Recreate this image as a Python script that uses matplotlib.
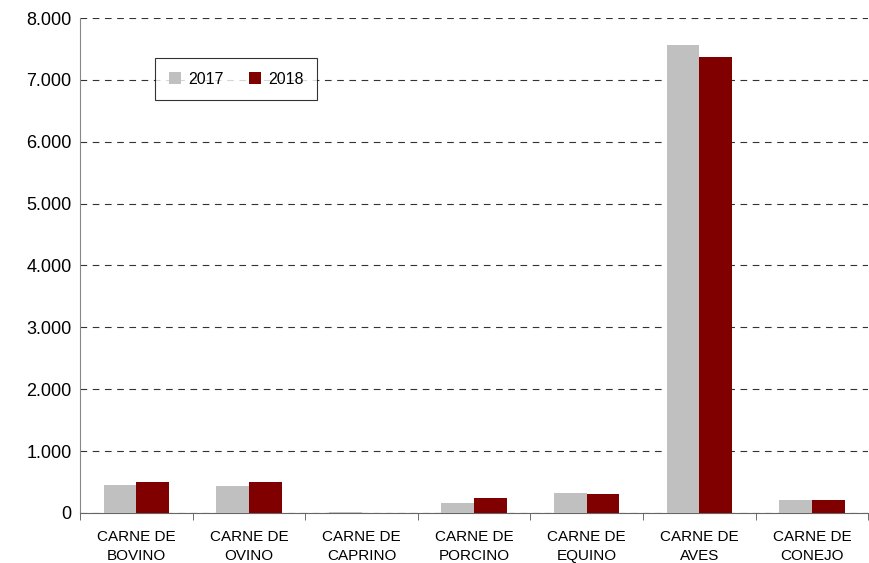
import numpy as np
from matplotlib import pyplot as plt
from matplotlib.ticker import FuncFormatter

categorias = ['CARNE DE\nBOVINO', 'CARNE DE\nOVINO', 'CARNE DE\nCAPRINO', 'CARNE DE\nPORCINO',
              'CARNE DE\nEQUINO', 'CARNE DE\nAVES', 'CARNE DE\nCONEJO']
v2017 = [452, 436, 10, 160, 323, 7561, 210]
v2018 = [500, 500, 5, 242, 307, 7367, 210]

plt.rcParams['font.family'] = ['Liberation Sans', 'DejaVu Sans']

fig = plt.figure(figsize=(8.7, 5.63), dpi=100)
ax = fig.add_axes([0.092, 0.089, 0.906, 0.879])

x = np.arange(len(categorias))
w = 0.29
ax.bar(x - w/2, v2017, w, color='#c0c0c0', label='2017', zorder=3)
ax.bar(x + w/2, v2018, w, color='#800000', label='2018', zorder=3)

ax.set_xlim(-0.5, len(categorias) - 0.5)
ax.set_ylim(0, 8000)
ax.set_yticks(np.arange(0, 8001, 1000))
ax.yaxis.set_major_formatter(FuncFormatter(lambda v, p: f'{int(v):,}'.replace(',', '.')))
ax.yaxis.grid(True, linestyle=(0, (6, 5)), color='#333333', linewidth=0.8, zorder=0)

ax.set_xticks(x)
ax.set_xticklabels(categorias, fontsize=11, linespacing=1.5)
ax.set_xticks(np.arange(-0.5, len(categorias)), minor=True)
ax.tick_params(axis='x', which='major', length=0, pad=12)
ax.tick_params(axis='x', which='minor', length=5, direction='out', color='#555555')
ax.tick_params(axis='y', labelsize=13, length=0, pad=6)

for s in ['top', 'right']:
    ax.spines[s].set_visible(False)
ax.spines['left'].set_color('#888888')
ax.spines['bottom'].set_color('#666666')

leg = ax.legend(loc='upper left', bbox_to_anchor=(0.085, 0.935), ncol=2, fontsize=11.5,
                frameon=True, fancybox=False, edgecolor='black', handlelength=0.8,
                handleheight=0.8, handletextpad=0.4, columnspacing=1.6, borderpad=0.85)
leg.get_frame().set_linewidth(0.8)

fig.savefig('out.png', dpi=100)
